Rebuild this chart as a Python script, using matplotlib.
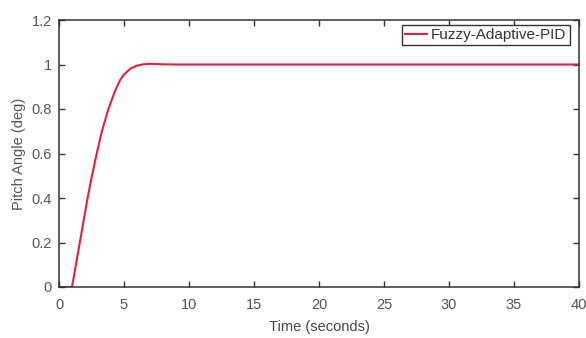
import numpy as np
import matplotlib.pyplot as plt

plt.rcParams['font.family'] = ['Liberation Sans', 'DejaVu Sans']

# step response of the pitch loop (seconds, degrees)
time_s = [0, 1.0, 1.3, 1.6, 1.9, 2.2, 2.5, 2.9, 3.3, 3.8, 4.3, 4.7, 5.0, 5.5,
          6.0, 6.5, 7.0, 7.5, 8.0, 9.0, 10.0, 15.0, 20.0, 30.0, 40.0]
pitch_deg = [0, 0, 0.10, 0.20, 0.30, 0.40, 0.49, 0.60, 0.70, 0.80, 0.88, 0.93,
             0.955, 0.982, 0.995, 1.001, 1.003, 1.002, 1.001, 1.0, 1.0, 1.0,
             1.0, 1.0, 1.0]

fig = plt.figure(figsize=(5.86, 3.38), dpi=100)
ax = fig.add_axes([59 / 586, 1 - 287 / 338, 520 / 586, 267 / 338])

ax.plot(time_s, pitch_deg, color='#e3203f', lw=1.5, label='Fuzzy-Adaptive-PID')

ax.set_xlim(0, 40)
ax.set_ylim(0, 1.2)
ax.set_xticks(np.arange(0, 41, 5))
ax.set_yticks([0, 0.2, 0.4, 0.6, 0.8, 1.0, 1.2])
ax.set_yticklabels(['0', '0.2', '0.4', '0.6', '0.8', '1', '1.2'])

ax.tick_params(direction='in', top=True, right=True, length=4, width=1,
               colors='#333333', labelcolor='#555555', labelsize=10.5)
ax.tick_params(axis='x', pad=8)
ax.tick_params(axis='y', pad=5)
for s in ax.spines.values():
    s.set_color('#333333')
    s.set_linewidth(1.1)

ax.set_xlabel('Time (seconds)', fontsize=10.5, color='#444444', labelpad=6)
ax.set_ylabel('Pitch Angle (deg)', fontsize=10.5, color='#555555', labelpad=4)

leg = ax.legend(loc='upper right', fontsize=11, handlelength=1.4,
                handletextpad=0.3, borderpad=0.2, fancybox=False,
                framealpha=1, bbox_to_anchor=(0.982, 0.982),
                borderaxespad=0)
leg.get_frame().set_edgecolor('#333333')
leg.get_frame().set_linewidth(1.0)
for t in leg.get_texts():
    t.set_color('#333333')

fig.savefig('out.png', dpi=100)
